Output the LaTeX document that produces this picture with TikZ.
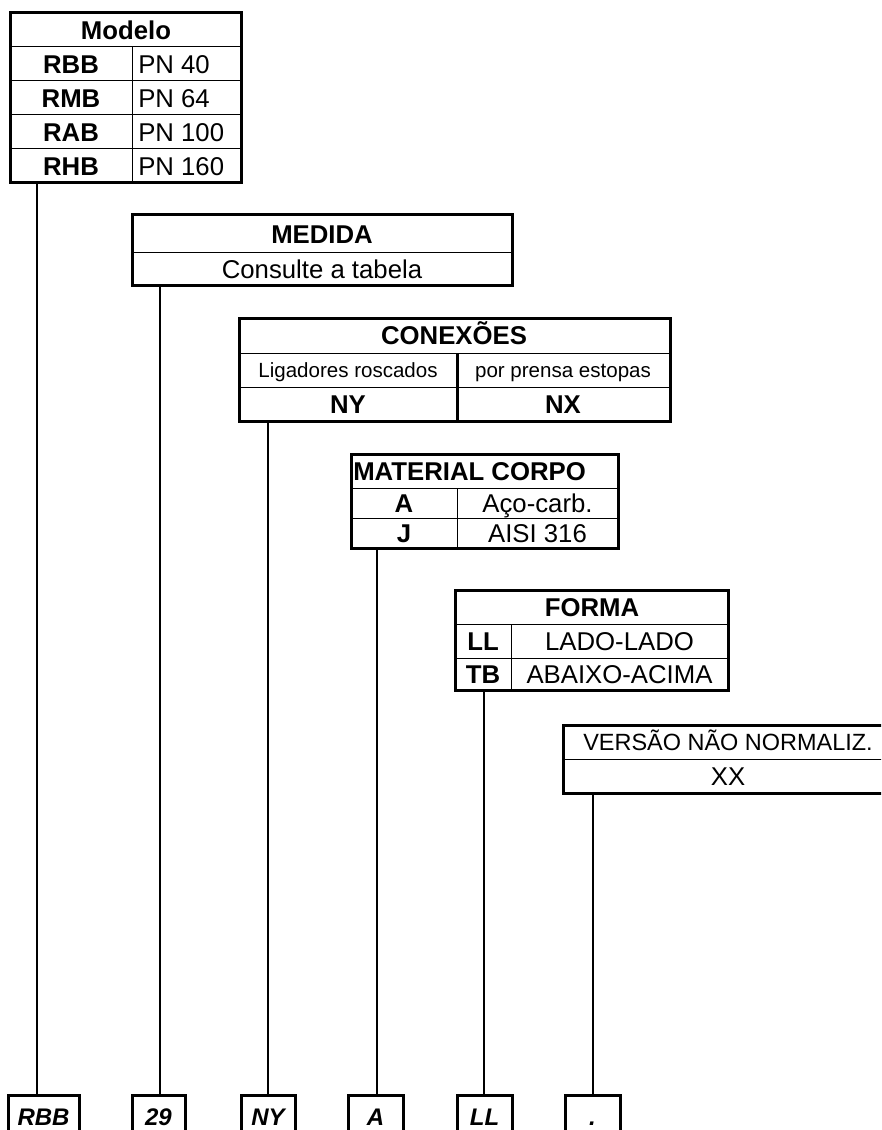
\documentclass[tikz,border=0pt]{standalone}
\usepackage{fontspec}
\setmainfont{Liberation Sans}
\usetikzlibrary{positioning}

\begin{document}
\begin{tikzpicture}[x=0.75pt,y=-0.75pt,
  frame/.style={line width=2.25pt},
  rule/.style={line width=0.75pt},
  link/.style={line width=1.1pt},
  txt/.style={inner sep=0pt,text height=13.8pt,text depth=0pt,font=\fontsize{19.3}{21}\selectfont},
  hd/.style={txt,font=\fontsize{19.3}{21}\selectfont\bfseries},
  sm/.style={inner sep=0pt,text height=11pt,text depth=0pt,font=\fontsize{15.4}{17}\selectfont},
  ver/.style={inner sep=0pt,text height=12.6pt,text depth=0pt,font=\fontsize{17.6}{19}\selectfont},
  codebox/.style={draw,line width=2.25pt,inner sep=0pt,minimum height=32pt,text height=12.9pt,text depth=0pt,font=\fontsize{18}{20}\selectfont\bfseries\itshape}]
\useasboundingbox (0,0) rectangle (881,1130);
\clip (0,0) rectangle (881,1130);

% Modelo
\foreach \y in {47,81,115,149} \draw[rule] (10,\y) -- (241,\y);
\draw[rule] (132,47) -- (132,183);
\draw[frame] (10,13) rectangle (241,183);
\node[hd] (modhead) at (126,30) {Modelo};
\foreach \c/\p [count=\i] in {RBB/40,RMB/64,RAB/100,RHB/160} {
  \node[hd] (mod\i) at (71,{30+34*\i}) {\c};
  \node[txt,anchor=west] (pn\i) at (138,{30+34*\i}) {PN \p};
}
\coordinate (cmod) at (37,183);

% Medida
\draw[rule] (132,253) -- (512,253);
\draw[frame] (132,215) rectangle (512,286);
\node[hd] (medhead) at (322,234) {MEDIDA};
\node[txt] (medval) at (322,269.5) {Consulte a tabela};
\coordinate (cmed) at (160,286);

% Conexoes
\draw[rule] (239,353) -- (670,353) (239,387) -- (670,387);
\draw[frame] (457,353) -- (457,421);
\draw[frame] (239,318) rectangle (670,421);
\node[hd] (conhead) at (454,335.5) {CONEXÕES};
\node[sm] (conlig) at (348,370) {Ligadores roscados};
\node[sm] (conpre) at (563,370) {por prensa estopas};
\node[hd] (conny) at (348,404) {NY};
\node[hd] (connx) at (563,404) {NX};
\coordinate (ccon) at (268,421);

% Material corpo
\draw[rule] (351,488) -- (618,488) (351,518) -- (618,518) (457,488) -- (457,548);
\draw[frame] (351,454) rectangle (618,548);
\node[hd,anchor=west] (mathead) at (353,471) {MATERIAL CORPO};
\node[hd] (mata) at (404,503) {A};
\node[txt] (matav) at (537.5,503) {Aço-carb.};
\node[hd] (matj) at (404,533) {J};
\node[txt] (matjv) at (537.5,533) {AISI 316};
\coordinate (cmat) at (377,548);

% Forma
\draw[rule] (455,624) -- (728,624) (455,658) -- (728,658) (511,624) -- (511,690);
\draw[frame] (455,590) rectangle (728,690);
\node[hd] (forhead) at (592,607) {FORMA};
\node[hd] (forll) at (483,641) {LL};
\node[txt] (forllv) at (619.5,641) {LADO-LADO};
\node[hd] (fortb) at (483,674) {TB};
\node[txt] (fortbv) at (619.5,674) {ABAIXO-ACIMA};
\coordinate (cfor) at (484,690);

% Versao
\draw[rule] (563,759) -- (900,759);
\draw[frame] (563,725) rectangle (900,793);
\node[ver] (verhead) at (728,742) {VERSÃO NÃO NORMALIZ.};
\node[txt] (verval) at (728,776) {XX};
\coordinate (cver) at (593,793);

% codigo
\foreach \n/\t/\x/\w in {rbb/RBB/43.5/53.25, nr/29/158.5/39.75, ny/NY/268/40.5,
    ma/A/375.5/41.25, ll/LL/484.5/41.25, xx/./592.5/41.25}
  \node[codebox,minimum width=\w pt] (\n) at (\x,1117) {\t};

\foreach \s/\e in {cmod/rbb,cmed/nr,ccon/ny,cmat/ma,cfor/ll,cver/xx}
  \draw[link] (\s) -- (\s |- \e.north);
\end{tikzpicture}
\end{document}
